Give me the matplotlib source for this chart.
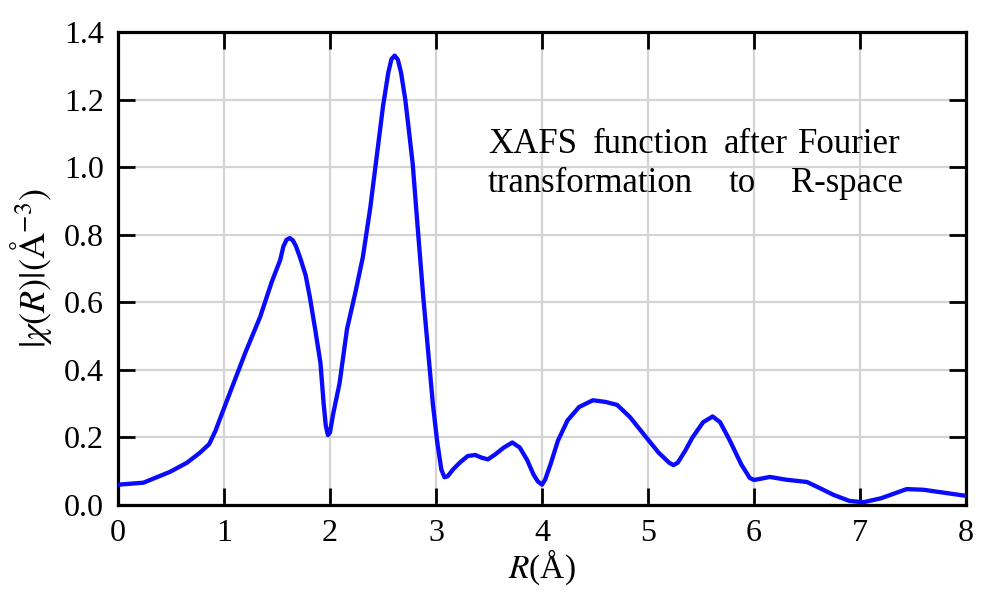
import matplotlib.pyplot as plt

plt.rcParams["font.family"] = ["Liberation Serif", "DejaVu Serif"]
plt.rcParams["mathtext.fontset"] = "stix"

# |chi(R)| read along the R axis
r_vals = [0.0, 0.24, 0.49, 0.65, 0.77, 0.86, 0.92, 0.98, 1.09, 1.2, 1.34, 1.45, 1.53,
          1.56, 1.59, 1.62, 1.65, 1.68, 1.72, 1.77, 1.81, 1.86, 1.91, 1.94, 1.96,
          1.98, 2.0, 2.03, 2.09, 2.16, 2.24, 2.31, 2.38, 2.44, 2.5, 2.55, 2.58,
          2.61, 2.64, 2.67, 2.71, 2.74, 2.78, 2.83, 2.88, 2.93, 2.97, 3.01, 3.05,
          3.08, 3.11, 3.16, 3.23, 3.3, 3.37, 3.43, 3.49, 3.56, 3.64, 3.72, 3.79,
          3.86, 3.92, 3.96, 4.0, 4.03, 4.08, 4.15, 4.24, 4.35, 4.48, 4.6, 4.71,
          4.83, 4.95, 5.1, 5.2, 5.24, 5.28, 5.35, 5.42, 5.52, 5.61, 5.68, 5.77,
          5.88, 5.96, 6.0, 6.07, 6.15, 6.3, 6.5, 6.62, 6.75, 6.9, 7.03, 7.2, 7.44,
          7.6, 8.0]
chi_vals = [0.06, 0.066, 0.098, 0.125, 0.154, 0.18, 0.22, 0.27, 0.36, 0.45, 0.556, 0.66, 0.725,
            0.765, 0.785, 0.79, 0.783, 0.765, 0.73, 0.68, 0.615, 0.52, 0.42, 0.30, 0.235,
            0.207, 0.215, 0.27, 0.36, 0.52, 0.63, 0.734, 0.88, 1.03, 1.18, 1.28, 1.32,
            1.33, 1.318, 1.28, 1.2, 1.12, 1.01, 0.81, 0.615, 0.44, 0.30, 0.19, 0.105,
            0.082, 0.085, 0.105, 0.127, 0.145, 0.148, 0.14, 0.135, 0.15, 0.17, 0.185, 0.17,
            0.133, 0.09, 0.07, 0.06, 0.075, 0.12, 0.19, 0.25, 0.29, 0.31, 0.305, 0.296,
            0.26, 0.213, 0.155, 0.125, 0.118, 0.125, 0.16, 0.20, 0.245, 0.262, 0.245, 0.192,
            0.12, 0.08, 0.074, 0.078, 0.083, 0.075, 0.068, 0.05, 0.03, 0.012, 0.008, 0.02, 0.047,
            0.045, 0.027]

x_ticks = [0, 1, 2, 3, 4, 5, 6, 7, 8]
y_ticks = [0.0, 0.2, 0.4, 0.6, 0.8, 1.0, 1.2, 1.4]

fig = plt.figure(figsize=(9.81, 5.92), dpi=100)
ax = fig.add_axes([0.1203, 0.147, 0.8644, 0.799])

ax.plot(r_vals, chi_vals, color="#0a0aff", lw=3.1, solid_joinstyle="round",
        solid_capstyle="round", zorder=3)

ax.set_xlim(0, 8)
ax.set_ylim(0, 1.4)
ax.set_xticks(x_ticks)
ax.set_yticks(y_ticks)
ax.set_xticklabels([str(t) for t in x_ticks])
ax.set_yticklabels([f"{t:.1f}" for t in y_ticks])
ax.grid(True, color="#d4d4d4", lw=1.6, zorder=0)
ax.tick_params(direction="in", length=12, width=2, labelsize=23,
               top=True, right=True)
ax.tick_params(axis="y", pad=10)
ax.tick_params(axis="x", pad=10)
for sp in ax.spines.values():
    sp.set_linewidth(2.3)

ax.set_xlabel("$R$(Å)", fontsize=24, labelpad=0)
ax.set_ylabel(r"$|\chi(R)|(\mathrm{Å}^{-3})$", fontsize=26, labelpad=7)

# justified two-line note
fs = 25
ax.text(3.49, 1.041, "XAFS", fontsize=fs, ha="left", va="baseline")
ax.text(4.48, 1.041, "function", fontsize=fs, ha="left", va="baseline")
ax.text(5.71, 1.041, "after", fontsize=fs, ha="left", va="baseline")
ax.text(7.38, 1.041, "Fourier", fontsize=fs, ha="right", va="baseline")
ax.text(3.49, 0.926, "transformation", fontsize=fs, ha="left", va="baseline")
ax.text(5.89, 0.926, "to", fontsize=fs, ha="center", va="baseline")
ax.text(7.41, 0.926, "R-space", fontsize=fs, ha="right", va="baseline")

fig.savefig("out.png", dpi=100)
